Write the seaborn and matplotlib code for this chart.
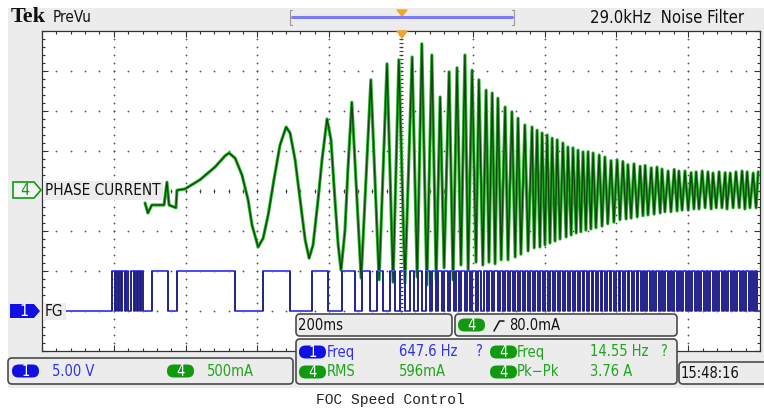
import numpy as np
import pandas as pd
import matplotlib
matplotlib.use("Agg")
import matplotlib.pyplot as plt
from matplotlib.patches import FancyBboxPatch, Polygon, Rectangle
import seaborn as sns

# scope settings
time_per_div = 200      # ms / div
ch4_per_div = 500       # mA / div
ch1_per_div = 5.0       # V / div
ch1_offset = -3.0       # div (FG ground)
fg_level = 5.0          # V

# channel 4 (PHASE CURRENT): turning points, ms / mA
phase_t = [-713, -705, -694, -660, -655, -652, -646, -627, -624, -602,
           -560, -518, -490, -479, -462, -443, -426, -415, -398, -384,
           -370, -354, -337, -320, -309, -295, -281, -267, -256, -245,
           -231, -220, -206, -195, -184, -175, -167, -156, -148, -137,
           -111, -84, -61, -39, -22, -6,
           11, 31, 45, 58, 72, 86, 98, 109, 120, 134,
           145, 156, 167, 178, 187, 198, 209, 217, 228, 237,
           245, 254, 262, 270, 279, 290, 298, 309, 318, 326,
           334, 345, 354, 365, 371, 379, 387, 393, 401, 407,
           415, 421, 429, 435, 443, 451, 460, 465, 474, 479,
           488, 493, 501, 507, 515, 521, 529, 535, 543, 552,
           560, 568, 576, 585, 593, 602, 610, 618, 627, 632,
           641, 649, 658, 666, 674, 680, 688, 697, 705, 713,
           722, 727, 735, 744, 752, 761, 769, 774, 783, 791,
           800, 808, 816, 822, 830, 839, 847, 855, 864, 869,
           878, 886, 894, 903, 908, 917, 925, 933, 942, 950,
           958, 964, 972, 981, 989, 995]
phase_ma = [-150, -275, -175, -175, 10, 110, -175, -210, 10, 25,
            140, 300, 440, 475, 410, 200, -110, -425, -700, -590,
            -300, 140, 575, 800, 725, 390, -110, -610, -840, -675,
            -110, 390, 900, 640, -110, -675, -990, -490, 260, 1110,
            -1090, 1390, -1110, 1590, -1140, 1640,
            -1150, 1675, -1075, 1840, -1175, 1700, -1110, 1175, -960, 1490,
            -1110, 1540, -925, 1700, -990, 1510, -890, 1390, -925, 1260,
            -890, 1225, -910, 1160, -860, 1050, -860, 990, -825, 910,
            -790, 825, -750, 800, -710, 760, -700, 725, -675, 700,
            -650, 660, -625, 640, -600, 600, -575, 550, -550, 540,
            -525, 510, -510, 490, -490, 490, -475, 475, -460, 450,
            -440, 425, -410, 380, -390, 390, -360, 370, -350, 330,
            -340, 340, -325, 310, -310, 320, -300, 290, -290, 300,
            -275, 275, -260, 250, -260, 270, -250, 250, -240, 250,
            -240, 230, -225, 240, -225, 250, -210, 240, -225, 225,
            -210, 240, -210, 230, -225, 225, -210, 240, -210, 250,
            -225, 240, -210, 225, -210, 240]

# channel 1 (FG): start / end of each high pulse, ms
fg_rise = [-805, -794, -786, -778, -766, -752, -741, -733, -724, -694,
           -624, -384, -248, -164, -109, -67, -31, -3, 25, 47,
           70, 87, 103, 120, 137, 153, 168, 184, 199, 214,
           230, 245, 260, 276, 290, 304, 318, 332, 346, 360,
           374, 388, 401, 415, 429, 443, 457, 471, 485, 499,
           511, 524, 536, 549, 561, 574, 586, 599, 611, 624,
           636, 649, 661, 674, 686, 699, 711, 724, 736, 749,
           761, 774, 786, 799, 811, 824, 836, 849, 861, 874,
           886, 899, 911, 924, 936, 949, 961, 974, 986]
fg_fall = [-797, -789, -780, -769, -761, -744, -736, -727, -719, -649,
           -462, -309, -203, -128, -86, -50, -17, 11, 36, 58,
           80, 97, 113, 130, 147, 162, 177, 193, 208, 223,
           239, 254, 269, 284, 298, 312, 326, 340, 354, 368,
           382, 396, 409, 423, 437, 451, 465, 479, 493, 506,
           518, 531, 543, 556, 568, 581, 593, 606, 618, 631,
           643, 656, 668, 681, 693, 706, 718, 731, 743, 756,
           768, 781, 793, 806, 818, 831, 843, 856, 868, 881,
           893, 906, 918, 931, 943, 956, 968, 981, 993]

sns.set_style("white")
plt.rcParams['font.family'] = ['DejaVu Sans']
plt.rcParams['font.stretch'] = 'condensed'

W, H = 764, 409
fig = plt.figure(figsize=(W / 100, H / 100), dpi=100)
fig.patch.set_facecolor('white')

# screen background (pixel coords)
bg = fig.add_axes([0, 0, 1, 1], label='bg', zorder=0)
bg.set_xlim(0, W); bg.set_ylim(H, 0); bg.axis('off')
bg.add_patch(Rectangle((8, 8), W - 8, 380, color='#ececec', lw=0))

# graticule: 10 x 8 divisions
ax = fig.add_axes([42 / W, 1 - 351 / H, 718 / W, 320 / H], label='scope', zorder=1)
ax.set_facecolor('white')
ax.set_xlim(-5, 5); ax.set_ylim(-4, 4)
ax.set_xticks(np.arange(-5, 5.01, 1))
ax.set_xticks(np.arange(-5, 5.01, 0.2), minor=True)
ax.set_yticks(np.arange(-4, 4.01, 1))
ax.set_yticks(np.arange(-4, 4.01, 0.2), minor=True)
ax.tick_params(which='both', direction='in', top=True, right=True, bottom=True, left=True,
               labelbottom=False, labelleft=False, color='#333333', width=0.8)
ax.tick_params(which='major', length=4.5)
ax.tick_params(which='minor', length=2.5)
for s in ax.spines.values():
    s.set_color('#333333'); s.set_linewidth(0.9)

dot = dict(ls='none', marker='o', ms=1.3, mew=0, color='#555555')
for xv in range(-4, 5):
    ys = np.arange(-4, 4.001, 0.2)
    ax.plot(np.full_like(ys, xv), ys, **dot)
for yv in range(-3, 4):
    xs = np.arange(-5, 5.001, 0.2)
    ax.plot(xs, np.full_like(xs, yv), **dot)
yc = np.arange(-4, 4.001, 0.1)
ax.plot(np.zeros_like(yc), yc, ls='none', marker='_', ms=3.5, mew=0.8, color='#444444')
xc = np.arange(-5, 5.001, 0.2)
ax.plot(xc, np.zeros_like(xc), ls='none', marker='|', ms=3.5, mew=0.8, color='#444444')

# channel 4 trace
ph = pd.DataFrame({'div_x': np.array(phase_t) / time_per_div,
                   'div_y': np.array(phase_ma) / ch4_per_div})
sns.lineplot(data=ph, x='div_x', y='div_y', sort=False, estimator=None,
             color='#2db82d', lw=2.3, ax=ax)
sns.lineplot(data=ph, x='div_x', y='div_y', sort=False, estimator=None,
             color='#0d470d', lw=1.0, ax=ax)

# channel 1 trace
fx, fy = [-1000], [0.0]
for r, f in zip(fg_rise, fg_fall):
    fx += [r, r, f, f]
    fy += [0, fg_level, fg_level, 0]
fx.append(1000); fy.append(0.0)
fg = pd.DataFrame({'div_x': np.array(fx) / time_per_div,
                   'div_y': np.array(fy) / ch1_per_div + ch1_offset})
sns.lineplot(data=fg, x='div_x', y='div_y', sort=False, estimator=None,
             color='#4b4bf0', lw=1.4, ax=ax)
ax.vlines(np.array(fg_rise + fg_fall) / time_per_div, ch1_offset,
          ch1_offset + fg_level / ch1_per_div, color='#1b1b70', lw=1.1)
ax.set_xlabel(''); ax.set_ylabel('')
ax.set_xlim(-5, 5); ax.set_ylim(-4, 4)

# overlays (pixel coords)
ui = fig.add_axes([0, 0, 1, 1], label='ui', zorder=2)
ui.set_xlim(0, W); ui.set_ylim(H, 0); ui.axis('off'); ui.patch.set_alpha(0)

BLUE_T, BLUE_P = '#3131e6', '#1010e4'
GREEN_T, GREEN_P = '#1ea51e', '#0f9a0f'
FS = 10.5


def box(x0, y0, x1, y1):
    ui.add_patch(FancyBboxPatch((x0, y0), x1 - x0, y1 - y0,
                                boxstyle='round,pad=0,rounding_size=4',
                                fc='#ececec', ec='#4a4a4a', lw=1.2))


def pill(x, y, label, color, w=27, h=13):
    ui.add_patch(FancyBboxPatch((x, y - h / 2), w, h,
                                boxstyle=f'round,pad=0,rounding_size={h / 2}',
                                fc=color, ec='none'))
    ui.text(x + w / 2, y + 0.5, label, color='white', ha='center', va='center', fontsize=10.5)


def txt(x, y, s, color='#111111', fs=FS, **kw):
    ui.text(x, y, s, color=color, ha='left', va='center', fontsize=fs, **kw)


# top bar
txt(11, 17, 'Tek', fs=16, family='Liberation Serif', weight='bold', stretch='normal')
txt(53, 18, 'PreVu', fs=11)
txt(590, 18, '29.0kHz  Noise Filter', fs=12)
ui.plot([292, 512], [17, 17], color='#7b7bf2', lw=2.2)
ui.plot([292, 290, 290, 292], [10, 10, 25, 25], color='#9a9a9a', lw=0.8)
ui.plot([512, 514, 514, 512], [10, 10, 25, 25], color='#9a9a9a', lw=0.8)
ui.add_patch(Polygon([(397, 10), (407, 10), (402, 16)], color='#f0a428'))
ui.add_patch(Polygon([(397, 31), (407, 31), (402, 38)], color='#f0a428'))

# channel markers and labels
ui.add_patch(Polygon([(13, 182), (34, 182), (41, 190), (34, 198), (13, 198)],
                     fc='#f4f4f4', ec=GREEN_P, lw=1.2))
txt(20, 190.5, '4', color=GREEN_P, fs=11.5)
ui.add_patch(Rectangle((43, 181), 120, 19, fc='#ececec', ec='none'))
txt(45, 190.5, 'PHASE CURRENT', fs=11)
ui.add_patch(Polygon([(10, 304), (34, 304), (40, 311), (34, 318), (10, 318)], fc=BLUE_P, ec='none'))
txt(19, 311.5, '1', color='white', fs=11.5)
ui.add_patch(Rectangle((43, 303), 23, 17, fc='#ececec', ec='none'))
txt(45, 311.5, 'FG', fs=11)

# bottom readouts
box(296, 314, 452, 336)
txt(298, 325, '200ms')
box(455, 314, 677, 336)
pill(458, 325, '4', GREEN_P)
ui.plot([494, 499.5, 504], [331, 321, 321], color='#111111', lw=1.1)
txt(509, 325, '80.0mA')

box(296, 339, 677, 384)
pill(299, 352, '1', BLUE_P)
txt(327, 352, 'Freq', color=BLUE_T)
txt(399, 352, '647.6 Hz', color=BLUE_T)
txt(475, 352, '?', color=BLUE_T)
pill(490, 352, '4', GREEN_P)
txt(517, 352, 'Freq', color=GREEN_T)
txt(590, 352, '14.55 Hz', color=GREEN_T)
txt(660, 352, '?', color=GREEN_T)
pill(299, 372, '4', GREEN_P)
txt(327, 372, 'RMS', color=GREEN_T)
txt(399, 372, '596mA', color=GREEN_T)
pill(490, 372, '4', GREEN_P)
txt(517, 372, 'Pk\u2212Pk', color=GREEN_T)
txt(590, 372, '3.76 A', color=GREEN_T)

box(8, 358, 293, 384)
pill(12, 371, '1', BLUE_P)
txt(52, 371, '5.00 V', color=BLUE_T)
pill(167, 371, '4', GREEN_P)
txt(207, 371, '500mA', color=GREEN_T)

box(679, 362, 772, 384)
txt(681, 373, '15:48:16')

txt(316, 400, 'FOC Speed Control', color='#222222', fs=10.5, family='Liberation Mono', stretch='normal')

fig.savefig('out.png', dpi=100)
